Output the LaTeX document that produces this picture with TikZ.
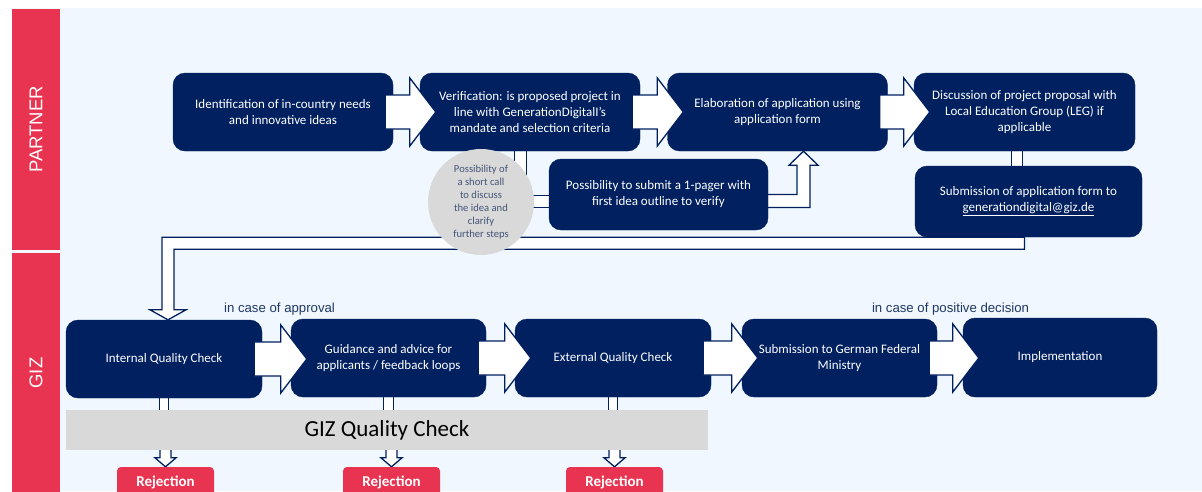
\documentclass[tikz,border=0pt]{standalone}
\usepackage{fontspec}
\setmainfont{Carlito}
\newfontfamily\arialf{Liberation Sans}
\usetikzlibrary{calc}
\definecolor{navy}{RGB}{0,32,96}
\definecolor{lanered}{RGB}{232,52,80}
\definecolor{bgblue}{RGB}{240,247,254}
\definecolor{qgray}{RGB}{217,217,217}
\definecolor{slate}{RGB}{68,84,120}
\definecolor{lblue}{RGB}{32,56,100}
\pgfdeclarelayer{back}
\pgfdeclarelayer{bgl}
\pgfsetlayers{back,bgl,main}
\tikzset{
  box/.style={fill=navy, draw=navy, rounded corners=12pt, text=white, align=center,
    font=\fontsize{13}{16}\selectfont, inner sep=0pt},
  blockarr/.style={fill=white, draw=navy, line width=1.3pt, line join=miter},
  hollow/.style={fill=white, draw=navy, line width=1.3pt, line join=miter},
  dbl/.style={draw=navy, line width=1.2pt, double=white, double distance=11pt},
  rej/.style={fill=lanered, rounded corners=4pt, text=white, inner sep=0pt,
    font=\fontsize{15}{15}\selectfont\bfseries, minimum width=97pt, minimum height=30pt},
  lane/.style={fill=lanered, text=white, inner sep=0pt, rotate=90,
    font=\arialf\fontsize{18.5}{18.5}\selectfont, minimum height=48pt},
  lbl/.style={font=\arialf\fontsize{13.2}{13.2}\selectfont, text=lblue, inner sep=0pt},
}
\newcommand\barrow[2]{\draw[blockarr] let \p1=($(#1.east)+(-8pt,0pt)$), \p2=($(#2.west)+(16pt,0pt)$) in
  (\x1,\y1+17pt) -- (\x2-26pt,\y1+17pt) -- (\x2-26pt,\y1+34pt) -- (\x2,\y1) -- (\x2-26pt,\y1-34pt) -- (\x2-26pt,\y1-17pt) -- (\x1,\y1-17pt) -- cycle;}
\newcommand\rarrow[1]{\draw[hollow] let \p1=(#1.north), \p2=(bar.south) in
  (\x1-5.5pt,\y2+2pt) -- (\x1-5.5pt,\y1+9pt) -- (\x1-10.5pt,\y1+9pt) -- (\x1,\y1) -- (\x1+10.5pt,\y1+9pt) -- (\x1+5.5pt,\y1+9pt) -- (\x1+5.5pt,\y2+2pt) -- cycle;}
\begin{document}
\begin{tikzpicture}[x=1pt,y=-1pt]
\useasboundingbox (0,0) rectangle (1202,491);
\begin{pgfonlayer}{back}
\fill[white] (0,0) rectangle (1202,491);
\fill[bgblue] (12,8) rectangle (1202,491);
\end{pgfonlayer}
% lanes
\node[lane, minimum width=241pt] (lp) at (36,129.5) {PARTNER};
\node[lane, minimum width=240pt] (lg) at (36,373) {GIZ};
% partner row
\node[box, minimum width=220pt, minimum height=78pt] (b1) at (283,112) {Identification of in-country needs\\and innovative ideas};
\node[box, minimum width=220pt, minimum height=78pt] (b2) at (530,112) {Verification: is proposed project in\\line with GenerationDigitalI’s\\mandate and selection criteria};
\node[box, minimum width=220pt, minimum height=78pt] (b3) at (777.5,112) {Elaboration of application using\\application form};
\node[box, minimum width=221pt, minimum height=78pt] (b4) at (1024.5,112) {Discussion of project proposal with\\Local Education Group (LEG) if\\applicable};
\node[box, minimum width=227pt, minimum height=71pt] (b5) at (1028.5,201.5) {Submission of application form to\\\underline{generationdigital@giz.de}};
\node[box, minimum width=219pt, minimum height=71pt] (b6) at (658.5,194.5) {Possibility to submit a 1-pager with\\first idea outline to verify};
\node[circle, fill=qgray, minimum size=106pt, inner sep=0pt, align=center, text=slate,
  font=\fontsize{10.6}{13}\selectfont] (call) at (481,202) {Possibility of\\a short call\\to discuss\\the idea and\\clarify\\further steps};
% giz row
\node[box, minimum width=196pt, minimum height=78pt] (g1) at (164,359) {Internal Quality Check};
\node[box, minimum width=195pt, minimum height=78pt] (g2) at (388.5,358) {Guidance and advice for\\applicants / feedback loops};
\node[box, minimum width=196pt, minimum height=78pt] (g3) at (613,358) {External Quality Check};
\node[box, minimum width=195pt, minimum height=78pt] (g4) at (839.5,358) {Submission to German Federal\\Ministry};
\node[box, minimum width=194pt, minimum height=79pt] (g5) at (1060,357.5) {Implementation};
\node[fill=qgray, minimum width=642pt, minimum height=40pt, inner sep=0pt,
  font=\fontsize{23}{23}\selectfont] (bar) at (387,430) {GIZ Quality Check};
\node[rej] (r1) at (165.5,482) {Rejection};
\node[rej] (r2) at (391.5,482) {Rejection};
\node[rej] (r3) at (614.5,482) {Rejection};
\node[lbl] (l1) at (279.5,309) {in case of approval};
\node[lbl] (l2) at (950.5,309) {in case of positive decision};
% block arrows
\barrow{b1}{b2}
\barrow{b2}{b3}
\barrow{b3}{b4}
\barrow{g1}{g2}
\barrow{g2}{g3}
\barrow{g3}{g4}
\barrow{g4}{g5}
% connectors behind
\begin{pgfonlayer}{bgl}
\draw[dbl] let \p1=(b2.south), \p2=(b6.west) in (\x1-9.5pt,\y1) |- (\x2,\y2-7pt);
\draw[dbl, double distance=9.5pt] let \p1=(b4.south), \p2=(b5.north) in (\x1-7.5pt,\y1) -- (\x1-7.5pt,\y2);
\draw[hollow] let \p1=(b6.east), \p2=(b3.south) in
  (\x1-2pt,\y1) -- (\x2+19.5pt,\y1) -- (\x2+19.5pt,\y2-14pt) -- (\x2+11.5pt,\y2-14pt) -- (\x2+26pt,\y2)
  -- (\x2+40.5pt,\y2-14pt) -- (\x2+32.5pt,\y2-14pt) -- (\x2+32.5pt,\y1-13pt) -- (\x1-2pt,\y1-13pt) -- cycle;
\draw[hollow] let \p1=(b5.south), \p2=(g1.north) in
  (\x1-4pt,\y1) -- (\x2-2pt,\y1) -- (\x2-2pt,\y2+10pt) -- (\x2-14pt,\y2+10pt) -- (\x2+4pt,\y2)
  -- (\x2+22pt,\y2+10pt) -- (\x2+10pt,\y2+10pt) -- (\x2+10pt,\y1-12pt) -- (\x1-4pt,\y1-12pt) -- cycle;
\draw[dbl, double distance=8.5pt] (g1.south) -- (g1.south |- bar.north);
\draw[dbl, double distance=8.5pt] (g2.south) -- (g2.south |- bar.north);
\draw[dbl, double distance=8.5pt] (g3.south) -- (g3.south |- bar.north);
\rarrow{r1}
\rarrow{r2}
\rarrow{r3}
\end{pgfonlayer}
\end{tikzpicture}
\end{document}
